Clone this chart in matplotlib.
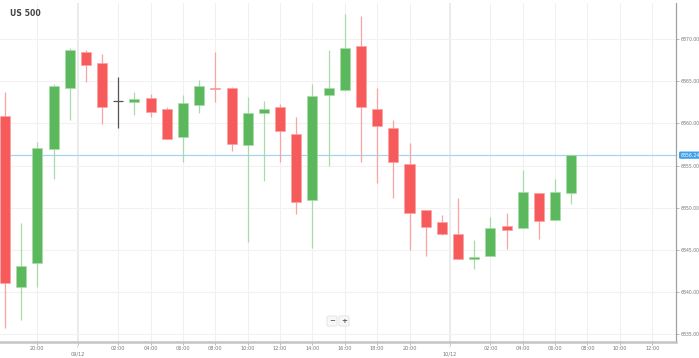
import matplotlib
matplotlib.use("Agg")
import matplotlib.pyplot as plt
from matplotlib.patches import Rectangle

title = "US 500"
hours = [18, 19, 20, 21, 22, 0, 1, 2, 3, 4, 5, 6, 7, 8, 9, 10, 11, 12, 13, 14, 15, 16,
         17, 18, 19, 20, 21, 22, 0, 1, 2, 3, 4, 5, 6, 7]
dates = ["09/12", "10/12"]
opens = [6860.93, 6840.62, 6843.40, 6856.94, 6864.18, 6868.46, 6867.19, 6862.67, 6862.55,
         6863.03, 6861.69, 6858.40, 6862.16, 6864.22, 6864.18, 6857.41, 6861.21, 6861.92,
         6858.79, 6850.91, 6863.38, 6863.94, 6869.20, 6861.69, 6859.43, 6855.15, 6849.69,
         6848.27, 6846.84, 6843.94, 6844.30, 6847.86, 6847.62, 6851.71, 6848.54, 6851.75]
highs = [6863.71, 6848.22, 6857.84, 6864.69, 6868.93, 6868.73, 6868.22, 6865.49, 6863.71,
         6863.47, 6861.92, 6863.38, 6865.17, 6868.46, 6864.30, 6863.18, 6862.67, 6862.28,
         6860.74, 6864.69, 6868.73, 6873.00, 6872.77, 6864.18, 6860.42, 6857.65, 6849.75,
         6849.13, 6851.15, 6846.16, 6848.86, 6849.41, 6854.44, 6851.75, 6853.41, 6856.24]
lows = [6835.68, 6836.66, 6840.55, 6853.41, 6860.45, 6864.96, 6859.98, 6859.47, 6861.01,
        6860.74, 6858.10, 6855.46, 6861.21, 6862.52, 6856.73, 6845.96, 6853.21, 6855.39,
        6849.22, 6845.18, 6854.99, 6863.90, 6855.43, 6852.93, 6851.19, 6845.01, 6844.23,
        6846.72, 6843.85, 6842.68, 6844.25, 6845.13, 6847.55, 6846.32, 6848.50, 6850.44]
closes = [6841.09, 6843.11, 6857.13, 6864.42, 6868.69, 6866.91, 6861.96, 6862.67, 6862.95,
          6861.40, 6858.16, 6862.43, 6864.42, 6864.04, 6857.60, 6861.28, 6861.69, 6859.11,
          6850.64, 6863.30, 6864.18, 6868.93, 6861.92, 6859.67, 6855.39, 6849.41, 6847.67,
          6846.88, 6843.91, 6844.18, 6847.62, 6847.35, 6851.90, 6848.42, 6851.90, 6856.24]
y_ticks = [6835, 6840, 6845, 6850, 6855, 6860, 6865, 6870]

W, H = 699, 358
fig = plt.figure(figsize=(W / 100, H / 100), dpi=100)
ax = fig.add_axes([0, (H - 342) / H, 676 / W, (342 - 3) / H])

RED, GREEN, GRAY = "#f75a5a", "#5cb85c", "#555555"
RED_W, GREEN_W = "#f9a3a3", "#a9dba9"

# grid slots (hourly, 23:00 skipped) extended beyond data
n_slots = 42
slot_hours = list(hours)
while len(slot_hours) < n_slots:
    h = (slot_hours[-1] + 1) % 24
    if h == 23:
        h = 0
    slot_hours.append(h)

hour_pos = [i for i, h in enumerate(slot_hours)
            if i > 0 and h % 2 == 0 and 0 < h < 22]
day_pos = [i - 0.5 for i in range(1, n_slots) if slot_hours[i] == 0 and slot_hours[i - 1] == 22]

for p in hour_pos:
    ax.axvline(p, color="#f0f0f0", lw=0.8, zorder=0)
for p in day_pos:
    ax.axvline(p, color="#e6e6e6", lw=1.1, zorder=0)
for v in y_ticks:
    ax.axhline(v, color="#f2f2f2", lw=0.8, zorder=0)

bw = 0.62
for i, (o, h, l, c) in enumerate(zip(opens, highs, lows, closes)):
    if c > o:
        col, wc = GREEN, GREEN_W
    elif c < o:
        col, wc = RED, RED_W
    else:
        col, wc = GRAY, GRAY
    ax.vlines(i, l, h, color=wc, lw=0.9, zorder=2)
    lo, hi = min(o, c), max(o, c)
    if col == GRAY:
        ax.hlines(o, i - bw / 2, i + bw / 2, color=GRAY, lw=0.9, zorder=3)
    else:
        ht = max(hi - lo, 0.12)
        ax.add_patch(Rectangle((i - bw / 2, lo), bw, ht, facecolor=col,
                               edgecolor=wc, lw=0.5, zorder=3))

last = closes[-1]
ax.axhline(last, color="#a8d4f4", lw=0.9, zorder=1)

ax.set_xlim(-0.31, 41.47)
ax.set_ylim(6834.05, 6874.31)

ax.spines["top"].set_visible(False)
ax.spines["left"].set_visible(False)
ax.spines["right"].set_color("#a0a0a0")
ax.spines["right"].set_linewidth(0.9)
ax.spines["bottom"].set_color("#c4c4c4")
ax.spines["bottom"].set_linewidth(1.8)

ax.yaxis.tick_right()
ax.set_yticks(y_ticks)
ax.set_yticklabels([f"{v:.2f}" for v in y_ticks])
ax.tick_params(axis="y", length=2, width=0.5, color="#a0a0a0", labelsize=3.3,
               labelcolor="#777777", pad=1)

xt = hour_pos + day_pos
xl = [f"{slot_hours[p]:02d}:00" for p in hour_pos] + ["" for _ in day_pos]
ax.set_xticks(xt)
ax.set_xticklabels(xl)
ax.tick_params(axis="x", length=2, width=0.5, color="#a0a0a0", labelsize=3.6,
               labelcolor="#777777", pad=0.8)
for p, d in zip(day_pos, dates):
    ax.annotate(d, xy=(p, 0), xycoords=("data", "axes fraction"), xytext=(0, -6.8),
                textcoords="offset points", ha="center", va="top", fontsize=3.6,
                color="#777777", annotation_clip=False)
    ax.annotate("", xy=(p, 0), xycoords=("data", "axes fraction"), xytext=(0, -6),
                textcoords="offset points",
                arrowprops=dict(arrowstyle="-", color="#c8c8c8", lw=0.5, ls=(0, (1, 1))),
                annotation_clip=False)

# current price tag
ax.annotate(f"{last:.2f}", xy=(1, last), xycoords=("axes fraction", "data"),
            xytext=(3, 0), textcoords="offset points", ha="left", va="center",
            fontsize=3.3, color="white", annotation_clip=False,
            bbox=dict(boxstyle="round,pad=0.25,rounding_size=0.3", fc="#3fa0ea", ec="none"))

# title
fig.text(10 / W, 1 - 13 / H, title, fontsize=5.6, fontweight="bold", color="#444444",
         ha="left", va="center")

# zoom buttons
for xpx, s in [(332, "\u2212"), (344, "+")]:
    fig.text(xpx / W, 1 - 321 / H, s, fontsize=5, fontweight="bold", color="#555555",
             ha="center", va="center",
             bbox=dict(boxstyle="round,pad=0.3,rounding_size=0.2", fc="#f7f7f7",
                       ec="#dddddd", lw=0.5))

fig.savefig("out.png", dpi=100)
